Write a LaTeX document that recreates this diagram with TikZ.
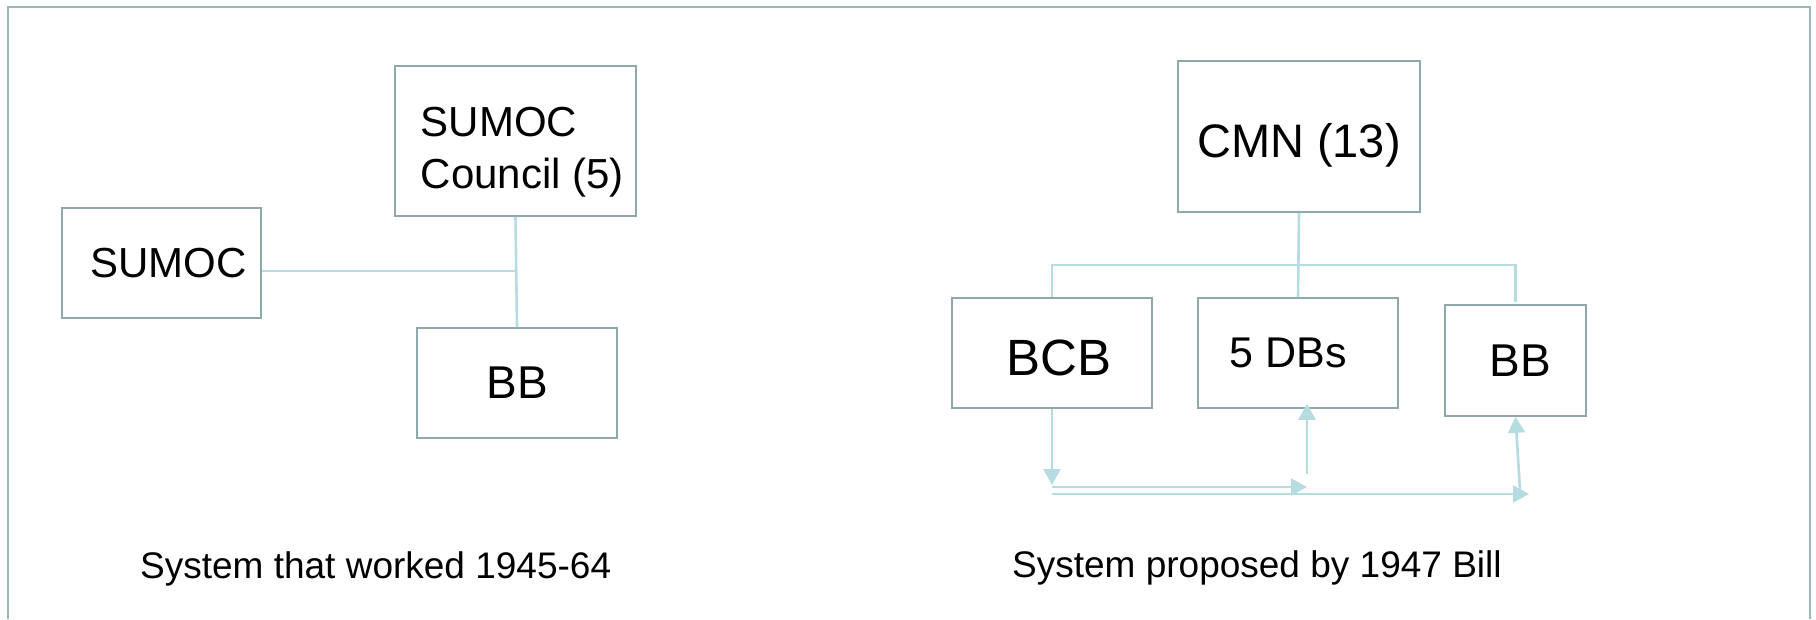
\documentclass[tikz,border=0pt]{standalone}
\usepackage{fontspec}
\setmainfont{Liberation Sans}
\usetikzlibrary{arrows.meta}
\definecolor{frameline}{HTML}{9DB6BA}
\definecolor{boxline}{HTML}{8EA8AC}
\definecolor{link}{HTML}{B5DCE0}
\tikzset{>={Triangle[width=17pt,length=16pt]}}

\begin{document}
\begin{tikzpicture}[x=1pt,y=-1pt]

\tikzstyle{box}=[draw=boxline,line width=1.6pt,inner sep=0pt]
\tikzstyle{wire}=[draw=link,line width=2.6pt]
\tikzstyle{syscap}=[anchor=base west,inner sep=0pt,font=\fontsize{37}{44}\selectfont]

\useasboundingbox (0,0) rectangle (1816,619);
\draw[frameline,line width=1.5pt] (8,619) -- (8,7) -- (1810,7) -- (1810,619);

% left: the working system
\node[box,minimum width=199pt,minimum height=110pt,
  font=\fontsize{42}{50}\selectfont] (sumoc) at (161.5,263) {\hspace*{14pt}SUMOC};
\node[box,minimum width=241pt,minimum height=150pt,align=left,
  font=\fontsize{42}{52}\selectfont] (council) at (515.5,141)
  {\rule{0pt}{51pt}\hspace*{14pt}SUMOC\\\hspace*{14pt}Council (5)};
\node[box,minimum width=200pt,minimum height=110pt,
  font=\fontsize{46}{55}\selectfont] (bbl) at (517,383) {BB};

\coordinate (jl) at (council.south |- 0,271);
\draw[wire] (council.south) -- (bbl.north);
\draw[wire] (sumoc.east |- jl) -- (jl);

\node[syscap] (capl) at (140,578) {System that worked 1945-64};

% right: the 1947 proposal
\node[box,minimum width=242pt,minimum height=151pt,text height=41pt,text depth=0pt,
  font=\fontsize{47}{56}\selectfont] (cmn) at (1299,136.5) {CMN (13)};
\node[box,minimum width=200pt,minimum height=110pt,text height=44pt,text depth=0pt,
  font=\fontsize{51}{60}\selectfont] (bcb) at (1052,353) {\hspace*{14pt}BCB};
\node[box,minimum width=200pt,minimum height=110pt,
  font=\fontsize{43}{52}\selectfont] (dbs) at (1298,353) {5 DBs\rule{20pt}{0pt}};
\node[box,minimum width=141pt,minimum height=111pt,
  font=\fontsize{46}{55}\selectfont] (bbr) at (1515.5,360.5) {\hspace*{10pt}BB};

\coordinate (hl) at (bcb.north |- 0,265);
\coordinate (hr) at (bbr.north |- 0,265);
\draw[wire] (cmn.south) -- (dbs.north);
\draw[wire,shorten >=2pt] (bcb.north) -- (hl) -- (hr) -- (bbr.north);

\coordinate (busa) at (1052,485);
\coordinate (busb) at (1307,487);
\coordinate (busc) at (1529,494);
\draw[wire,->] (bcb.south) -- (busa);
\draw[wire,->] (busa |- busb) -- (busb);
\draw[wire,->] (busb |- 0,474) -- ([yshift=5pt]busb |- dbs.south);
\draw[wire,->] (busa |- busc) -- (busc);
\draw[wire,->] (1520,490) -- (bbr.south);

\node[syscap] (capr) at (1012,577) {System proposed by 1947 Bill};
\end{tikzpicture}
\end{document}
